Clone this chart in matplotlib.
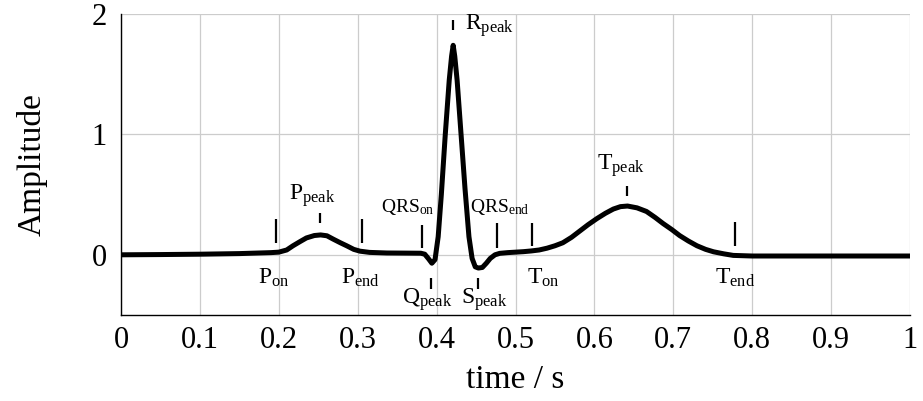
import numpy as np
import matplotlib
matplotlib.use("Agg")
import matplotlib.pyplot as plt

plt.rcParams['font.family'] = ['Liberation Serif', 'DejaVu Serif']
plt.rcParams['mathtext.fontset'] = 'custom'
plt.rcParams['mathtext.rm'] = 'Liberation Serif'
plt.rcParams['mathtext.it'] = 'Liberation Serif:italic'

# ECG curve (time in s, amplitude)
time = [0.0, 0.05, 0.1, 0.15, 0.19, 0.2, 0.21, 0.218, 0.227, 0.235, 0.245, 0.253,
        0.261, 0.269, 0.278, 0.286, 0.295, 0.303, 0.315, 0.337, 0.36, 0.38,
        0.385, 0.39, 0.394, 0.398, 0.402, 0.406, 0.411, 0.416, 0.419, 0.421, 0.423,
        0.426, 0.431, 0.436, 0.441, 0.445, 0.449, 0.453, 0.458, 0.463, 0.468, 0.474,
        0.48, 0.49, 0.5, 0.51, 0.52, 0.53, 0.54, 0.55, 0.56, 0.571, 0.582,
        0.592, 0.603, 0.614, 0.624, 0.633, 0.642, 0.654, 0.666, 0.677, 0.687,
        0.698, 0.708, 0.719, 0.73, 0.741, 0.751, 0.764, 0.776, 0.8, 0.9, 1.0]
amp = [0.0, 0.002, 0.005, 0.01, 0.018, 0.022, 0.04, 0.075, 0.11, 0.14, 0.16, 0.165,
       0.158, 0.13, 0.1, 0.075, 0.045, 0.03, 0.02, 0.015, 0.014, 0.013,
       0.005, -0.035, -0.07, -0.04, 0.15, 0.5, 1.0, 1.45, 1.65, 1.74, 1.65,
       1.45, 1.0, 0.55, 0.15, -0.03, -0.1, -0.11, -0.105, -0.07, -0.03, 0.0,
       0.012, 0.018, 0.022, 0.026, 0.032, 0.04, 0.055, 0.075, 0.1, 0.145, 0.2,
       0.25, 0.3, 0.345, 0.38, 0.4, 0.405, 0.39, 0.36, 0.31, 0.26,
       0.21, 0.16, 0.115, 0.075, 0.045, 0.025, 0.008, -0.005, -0.01, -0.01, -0.01]

# fiducial marks: time, mark bottom, mark top
mark_names = ['P_on', 'P_peak', 'P_end', 'QRS_on', 'Q_peak', 'R_peak',
              'S_peak', 'QRS_end', 'T_on', 'T_peak', 'T_end']
mark_t = [0.1965, 0.252, 0.305, 0.3815, 0.3935, 0.421, 0.4525, 0.477, 0.521, 0.641, 0.778]
mark_lo = [0.10, 0.26, 0.10, 0.06, -0.28, 1.87, -0.28, 0.06, 0.075, 0.49, 0.075]
mark_hi = [0.30, 0.35, 0.30, 0.25, -0.19, 1.95, -0.19, 0.26, 0.26, 0.575, 0.27]

# label placement: text, x, y, ha, va, size
labels = [
    (r'P$_{\mathrm{on}}$', 0.194, -0.10, 'center', 'top', 17),
    (r'P$_{\mathrm{peak}}$', 0.243, 0.38, 'center', 'bottom', 17),
    (r'P$_{\mathrm{end}}$', 0.303, -0.10, 'center', 'top', 17),
    (r'QRS$_{\mathrm{on}}$', 0.364, 0.31, 'center', 'bottom', 14),
    (r'Q$_{\mathrm{peak}}$', 0.3885, -0.26, 'center', 'top', 17),
    (r'R$_{\mathrm{peak}}$', 0.436, 1.90, 'left', 'center', 17),
    (r'S$_{\mathrm{peak}}$', 0.460, -0.26, 'center', 'top', 17),
    (r'QRS$_{\mathrm{end}}$', 0.480, 0.31, 'center', 'bottom', 14),
    (r'T$_{\mathrm{on}}$', 0.535, -0.10, 'center', 'top', 17),
    (r'T$_{\mathrm{peak}}$', 0.634, 0.63, 'center', 'bottom', 17),
    (r'T$_{\mathrm{end}}$', 0.779, -0.10, 'center', 'top', 17),
]

fig = plt.figure(figsize=(9.23, 4.01), dpi=100)
ax = fig.add_axes([121 / 923, 86 / 401, 789 / 923, 301 / 401])

ax.plot(time, amp, color='black', lw=3.6, solid_joinstyle='round', zorder=3)
ax.vlines(mark_t, mark_lo, mark_hi, color='black', lw=1.6, zorder=3)
for txt, x, y, ha, va, fs in labels:
    ax.text(x, y, txt, ha=ha, va=va, fontsize=fs, zorder=4)

ax.set_xlim(0, 1)
ax.set_ylim(-0.5, 2)
ax.set_xticks(np.arange(0, 1.01, 0.1))
ax.set_xticklabels(['0', '0.1', '0.2', '0.3', '0.4', '0.5', '0.6', '0.7', '0.8', '0.9', '1'])
ax.set_yticks([0, 1, 2])
ax.set_yticklabels(['0', '1', '2'])
ax.grid(True, color='#cccccc', lw=0.9)
ax.set_axisbelow(True)
ax.tick_params(length=0, labelsize=22)
ax.tick_params(axis='x', pad=8)
ax.tick_params(axis='y', pad=10)
for s in ['top', 'right']:
    ax.spines[s].set_visible(False)
for s in ['left', 'bottom']:
    ax.spines[s].set_linewidth(1.0)

ax.set_xlabel('time / s', fontsize=24, labelpad=7)
ax.set_ylabel('Amplitude', fontsize=24, labelpad=32)

fig.savefig('out.png', dpi=100)
